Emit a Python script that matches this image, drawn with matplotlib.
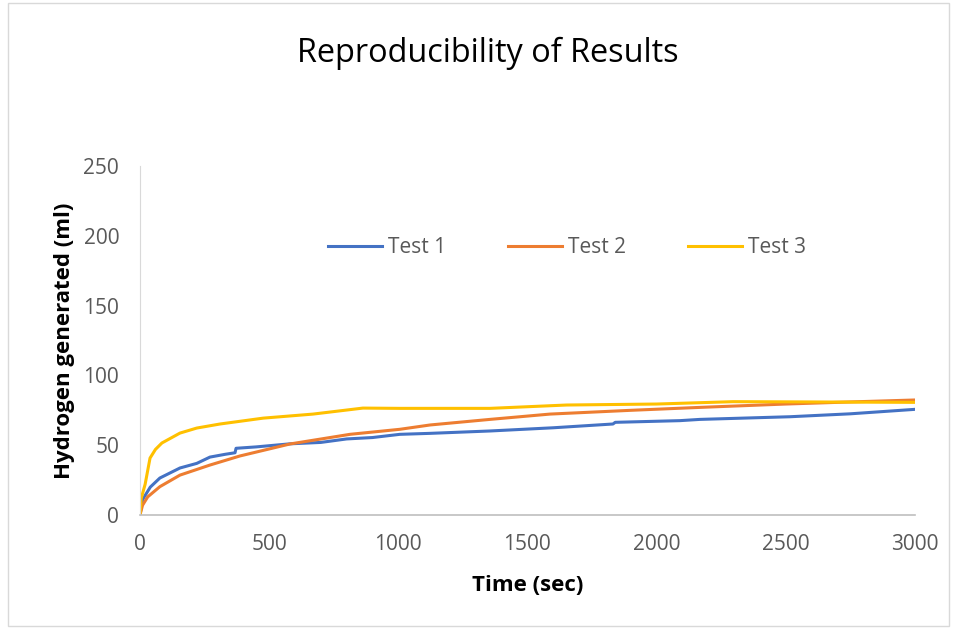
import matplotlib.pyplot as plt
from matplotlib.patches import Rectangle

plt.rcParams['font.family'] = ['Open Sans', 'DejaVu Sans']

# values
t1 = [0, 10, 40, 77, 155, 220, 271, 330, 368, 372, 450, 581, 700, 800, 900, 1006, 1123, 1355, 1600, 1831, 1840, 2090, 2168, 2516, 2750, 3000]
test1 = [0, 11, 20, 26.5, 33.7, 37, 41.5, 43.5, 44.6, 47.8, 48.8, 51, 52, 54.5, 55.5, 57.8, 58.5, 60.2, 62.5, 65.2, 66.4, 67.6, 68.5, 70.4, 72.5, 75.7]

t2 = [0, 10, 30, 77, 155, 271, 387, 581, 813, 1006, 1123, 1355, 1587, 1900, 2168, 2500, 2750, 3000]
test2 = [0, 7, 13, 20.3, 28.6, 35.8, 42.3, 50.9, 57.8, 61.4, 64.5, 68.5, 72.3, 75, 77.1, 79.5, 81, 82.4]

t3 = [0, 5, 20, 39, 60, 85, 155, 220, 310, 477, 670, 863, 1006, 1355, 1652, 2000, 2296, 2600, 3000]
test3 = [0, 12, 22, 40.8, 47, 51.6, 58.7, 62.3, 65.2, 69.4, 72.3, 76.6, 76.4, 76.4, 78.8, 79.5, 81.2, 81, 80.7]

fig = plt.figure(figsize=(9.56, 6.3), dpi=100)
ax = fig.add_axes([0.1464, 0.1825, 0.8106, 0.554])

ax.plot(t1, test1, color='#4472C4', lw=2.2, label='Test 1')
ax.plot(t2, test2, color='#ED7D31', lw=2.2, label='Test 2')
ax.plot(t3, test3, color='#FFC000', lw=2.2, label='Test 3')

ax.set_xlim(0, 3000)
ax.set_ylim(0, 250)
ax.set_xticks(range(0, 3001, 500))
ax.set_yticks(range(0, 251, 50))
ax.tick_params(length=0, labelsize=15, labelcolor='#595959')
ax.tick_params(axis='x', pad=14)
ax.tick_params(axis='y', pad=15)

for s in ['top', 'right']:
    ax.spines[s].set_visible(False)
ax.spines['left'].set_color('#D9D9D9')
ax.spines['bottom'].set_color('#BFBFBF')
ax.spines['bottom'].set_linewidth(1.2)

ax.set_xlabel('Time (sec)', fontsize=16, fontweight='bold', labelpad=14)
ax.set_ylabel('Hydrogen generated (ml)', fontsize=16, fontweight='bold', labelpad=6)

fig.text(0.51, 0.902, 'Reproducibility of Results', ha='center', va='baseline', fontsize=23.4)

ax.legend(loc='center', bbox_to_anchor=(0.551, 0.766), ncol=3, frameon=False,
          fontsize=15, handlelength=2.6, handletextpad=0.25, columnspacing=3.0,
          labelcolor='#595959')

fig.patches.append(Rectangle((0.008, 0.006), 0.985, 0.99, transform=fig.transFigure,
                             fill=False, edgecolor='#D9D9D9', lw=1))

fig.savefig('out.png', dpi=100)
